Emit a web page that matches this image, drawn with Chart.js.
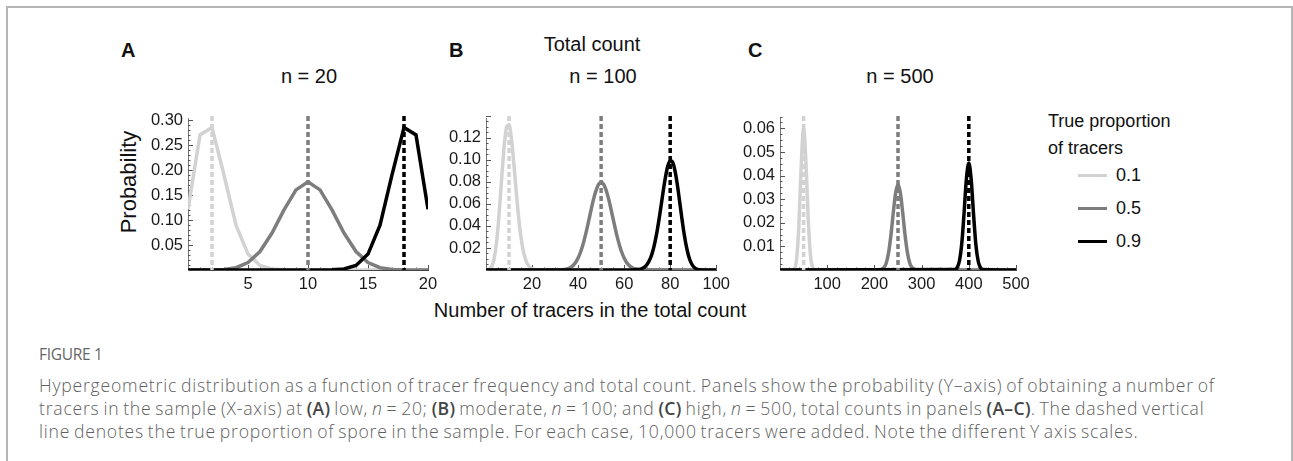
<!DOCTYPE html>
<html>
<head>
<meta charset="utf-8">
<script src="https://cdn.jsdelivr.net/npm/chart.js@4.4.1/dist/chart.umd.min.js"></script>
<style>
body { margin: 0; width: 1293px; height: 461px; background: #fff; position: relative; overflow: hidden; font-family: "Liberation Sans", Arial, sans-serif; }
.frame { position: absolute; left: 6px; top: 6px; width: 1283px; height: 470px; border: 2px solid #b5b5b5; border-bottom: none; }
canvas { position: absolute; }
.t { position: absolute; white-space: nowrap; color: #111; line-height: 1; }
.panel-letter { font-size: 20px; font-weight: bold; }
.panel-title { font-size: 20px; transform: translateX(-50%); }
.ylab { font-size: 22px; transform: translate(-50%, -50%) rotate(-90deg); }
.legend-line { position: absolute; height: 3px; width: 29px; }
.fig { position: absolute; left: 39px; top: 343px; font-family: "Open Sans", "Liberation Sans", sans-serif; font-size: 15.5px; color: #666; letter-spacing: -0.3px; }
.caption { position: absolute; left: 39px; top: 374px; font-family: "Open Sans", "Liberation Sans", sans-serif; font-weight: 300; font-size: 17.6px; line-height: 23px; color: #616161; white-space: nowrap; letter-spacing: 0.78px; word-spacing: -1.5px; }
.caption b { font-weight: 600; color: #444; letter-spacing: 0.3px; }
</style>
</head>
<body>
<div class="frame"></div>

<div class="t panel-letter" style="left:121px; top:40px;">A</div>
<div class="t panel-letter" style="left:449px; top:40px;">B</div>
<div class="t panel-letter" style="left:748px; top:40px;">C</div>
<div class="t panel-title" style="left:592px; top:34px;">Total count</div>
<div class="t panel-title" style="left:309px; top:66px;">n = 20</div>
<div class="t panel-title" style="left:603px; top:66px;">n = 100</div>
<div class="t panel-title" style="left:900px; top:66px;">n = 500</div>
<div class="t ylab" style="left:129px; top:182px;">Probability</div>
<div class="t panel-title" style="left:590px; top:300px;">Number of tracers in the total count</div>

<div class="t" style="left:1048px; top:112px; font-size:18px;">True proportion</div>
<div class="t" style="left:1048px; top:139px; font-size:18px;">of tracers</div>
<div id="legend"></div>

<canvas id="panelA" width="360" height="200" style="left:90px; top:100px;"></canvas>
<canvas id="panelB" width="335" height="200" style="left:400px; top:100px;"></canvas>
<canvas id="panelC" width="335" height="200" style="left:700px; top:100px;"></canvas>

<div class="fig">FIGURE 1</div>
<div class="caption">
Hypergeometric distribution as a function of tracer frequency and total count. Panels show the probability (Y–axis) of obtaining a number of<br>
tracers in the sample (X-axis) at <b>(A)</b> low, <i>n</i> = 20; <b>(B)</b> moderate, <i>n</i> = 100; and <b>(C)</b> high, <i>n</i> = 500, total counts in panels <b>(A–C)</b>. The dashed vertical<br>
line denotes the true proportion of spore in the sample. For each case, 10,000 tracers were added. Note the different Y axis scales.
</div>

<script>
// legend
const proportions = ['0.1', '0.5', '0.9'];
const seriesColors = ['#d2d2d2', '#7d7d7d', '#000000'];

// panel A, n = 20
const countsA = [0, 1, 2, 3, 4, 5, 6, 7, 8, 9, 10, 11, 12, 13, 14, 15, 16, 17, 18, 19, 20];
const lowA = [0.1216, 0.2702, 0.2852, 0.1901, 0.0898, 0.0319, 0.0089, 0.0020, 0.0004, 0.0001, 0, 0, 0, 0, 0, 0, 0, 0, 0, 0, 0];
const midA = [0, 0, 0.0002, 0.0011, 0.0046, 0.0148, 0.0370, 0.0739, 0.1201, 0.1602, 0.1762, 0.1602, 0.1201, 0.0739, 0.0370, 0.0148, 0.0046, 0.0011, 0.0002, 0, 0];
const highA = [0, 0, 0, 0, 0, 0, 0, 0, 0, 0, 0, 0.0001, 0.0004, 0.0020, 0.0089, 0.0319, 0.0898, 0.1901, 0.2852, 0.2702, 0.1216];
const trueA = [2, 10, 18];

// panel B, n = 100
const lowBx = [0, 2, 3, 4, 5, 6, 7, 8, 9, 10, 11, 12, 13, 14, 15, 16, 17, 18, 19, 20, 21, 22, 24, 100];
const lowBy = [0, 0.0016, 0.0059, 0.0159, 0.0339, 0.0596, 0.0889, 0.1148, 0.1304, 0.1319, 0.1199, 0.0988, 0.0743, 0.0513, 0.0327, 0.0193, 0.0106, 0.0054, 0.0026, 0.0012, 0.0005, 0.0002, 0, 0];
const midBx = [0, 33, 34, 35, 36, 37, 38, 39, 40, 41, 42, 43, 44, 45, 46, 47, 48, 49, 50, 51, 52, 53, 54, 55, 56, 57, 58, 59, 60, 61, 62, 63, 64, 65, 66, 67, 100];
const midBy = [0, 0.0002, 0.0005, 0.0009, 0.0016, 0.0027, 0.0045, 0.0071, 0.0108, 0.0159, 0.0223, 0.0301, 0.0390, 0.0485, 0.0580, 0.0666, 0.0735, 0.0780, 0.0796, 0.0780, 0.0735, 0.0666, 0.0580, 0.0485, 0.0390, 0.0301, 0.0223, 0.0159, 0.0108, 0.0071, 0.0045, 0.0027, 0.0016, 0.0009, 0.0005, 0.0002, 0];
const highBx = [0, 63, 64, 65, 66, 67, 68, 69, 70, 71, 72, 73, 74, 75, 76, 77, 78, 79, 80, 81, 82, 83, 84, 85, 86, 87, 88, 89, 90, 91, 92, 93, 94, 95, 100];
const highBy = [0, 0, 0.0001, 0.0002, 0.0004, 0.0008, 0.0016, 0.0029, 0.0052, 0.0088, 0.0141, 0.0217, 0.0316, 0.0439, 0.0577, 0.0720, 0.0849, 0.0946, 0.0993, 0.0981, 0.0909, 0.0789, 0.0638, 0.0481, 0.0335, 0.0216, 0.0128, 0.0069, 0.0034, 0.0015, 0.0006, 0.0002, 0.0001, 0, 0];
const trueB = [10, 50, 80];

// panel C, n = 500
const lowCx = [0, 25, 30, 35, 40, 45, 50, 55, 60, 65, 70, 75, 500];
const lowCy = [0, 0.0001, 0.0005, 0.0043, 0.0188, 0.0446, 0.0600, 0.0455, 0.0207, 0.0054, 0.0009, 0.0001, 0];
const midCx = [0, 210, 215, 220, 225, 230, 235, 240, 245, 250, 255, 260, 265, 270, 275, 280, 285, 290, 500];
const midCy = [0, 0.0001, 0.0003, 0.0010, 0.0029, 0.0073, 0.0147, 0.0242, 0.0327, 0.0362, 0.0327, 0.0242, 0.0147, 0.0073, 0.0029, 0.0010, 0.0003, 0.0001, 0];
const highCx = [0, 370, 375, 380, 385, 390, 395, 400, 405, 410, 415, 420, 425, 430, 500];
const highCy = [0, 0.0002, 0.0009, 0.0037, 0.0110, 0.0242, 0.0388, 0.0453, 0.0385, 0.0238, 0.0107, 0.0036, 0.0009, 0.0002, 0];
const trueC = [50, 250, 400];

const tickFont = { family: '"Liberation Sans", Arial, sans-serif', size: 16.5 };

// small inward ticks, major and minor, like the original plot style
const tickMarks = {
    id: 'tickMarks',
    beforeDatasetsDraw(chart, args, opts) {
        const ctx = chart.ctx;
        const area = chart.chartArea;
        ctx.save();
        ctx.strokeStyle = '#555';
        ctx.lineWidth = 1;
        ['x', 'y'].forEach(function(key) {
            const scale = chart.scales[key];
            const o = opts[key];
            const n = Math.round((scale.max - scale.min) / o.minor);
            for (let i = 1; i <= n; i++) {
                const v = scale.min + i * o.minor;
                const r = v / o.major;
                const len = Math.abs(r - Math.round(r)) < 1e-6 ? 5 : 2.5;
                const p = Math.round(scale.getPixelForValue(v)) + 0.5;
                ctx.beginPath();
                if (key === 'x') {
                    ctx.moveTo(p, area.bottom);
                    ctx.lineTo(p, area.bottom - len);
                } else {
                    ctx.moveTo(area.left, p);
                    ctx.lineTo(area.left + len, p);
                }
                ctx.stroke();
            }
        });
        ctx.restore();
    }
};

// dashed vertical line at the true count of each series
const trueLines = {
    id: 'trueLines',
    afterDatasetsDraw(chart, args, opts) {
        const ctx = chart.ctx;
        const area = chart.chartArea;
        opts.values.forEach(function(v, i) {
            const x = chart.scales.x.getPixelForValue(v);
            ctx.save();
            ctx.strokeStyle = seriesColors[i];
            ctx.lineWidth = 3.5;
            ctx.setLineDash([5, 3]);
            ctx.beginPath();
            ctx.moveTo(x, area.top - 2);
            ctx.lineTo(x, area.bottom);
            ctx.stroke();
            ctx.restore();
        });
    }
};

function makePanel(id, cfg) {
    const datasets = cfg.series.map(function(s, i) {
        return {
            data: s.x.map(function(x, j) { return { x: x, y: s.y[j] }; }),
            borderColor: seriesColors[i],
            borderWidth: 3.5,
            pointRadius: 0,
            tension: cfg.tension,
            cubicInterpolationMode: cfg.tension ? 'monotone' : 'default',
            fill: false,
            order: 2 - i
        };
    });

    return new Chart(document.getElementById(id), {
        type: 'line',
        data: { datasets: datasets },
        options: {
            responsive: false,
            animation: false,
            devicePixelRatio: 1,
            layout: { padding: { top: 18, right: cfg.padRight, left: 0, bottom: 0 } },
            plugins: {
                legend: { display: false },
                tooltip: { enabled: false },
                trueLines: { values: cfg.trueVals },
                tickMarks: { x: cfg.xTicks, y: cfg.yTicks }
            },
            scales: {
                x: {
                    type: 'linear',
                    min: 0,
                    max: cfg.xMax,
                    grid: { display: false, drawTicks: false },
                    border: { color: '#444', width: 1 },
                    ticks: {
                        stepSize: cfg.xTicks.major,
                        includeBounds: false,
                        autoSkip: false,
                        maxRotation: 0,
                        padding: 5,
                        color: '#1a1a1a',
                        font: tickFont,
                        callback: function(v) { return v === 0 ? '' : v; }
                    },
                    afterFit: function(s) { s.height = 30; }
                },
                y: {
                    min: 0,
                    max: cfg.yMax,
                    grid: { display: false, drawTicks: false },
                    border: { color: '#777', width: 1 },
                    ticks: {
                        stepSize: cfg.yTicks.major,
                        includeBounds: false,
                        autoSkip: false,
                        padding: 5,
                        color: '#1a1a1a',
                        font: tickFont,
                        callback: function(v) { return Math.abs(v) < 1e-9 ? '' : v.toFixed(2); }
                    },
                    afterFit: function(s) { s.width = cfg.yWidth; }
                }
            }
        },
        plugins: [tickMarks, trueLines]
    });
}

makePanel('panelA', {
    series: [
        { x: countsA, y: lowA },
        { x: countsA, y: midA },
        { x: countsA, y: highA }
    ],
    trueVals: trueA,
    xMax: 20, yMax: 0.304,
    xTicks: { major: 5, minor: 1 },
    yTicks: { major: 0.05, minor: 0.01 },
    yWidth: 98, padRight: 22, tension: 0
});

makePanel('panelB', {
    series: [
        { x: lowBx, y: lowBy },
        { x: midBx, y: midBy },
        { x: highBx, y: highBy }
    ],
    trueVals: trueB,
    xMax: 100, yMax: 0.138,
    xTicks: { major: 20, minor: 5 },
    yTicks: { major: 0.02, minor: 0.005 },
    yWidth: 86, padRight: 16, tension: 0.4
});

makePanel('panelC', {
    series: [
        { x: lowCx, y: lowCy },
        { x: midCx, y: midCy },
        { x: highCx, y: highCy }
    ],
    trueVals: trueC,
    xMax: 500, yMax: 0.0644,
    xTicks: { major: 100, minor: 20 },
    yTicks: { major: 0.01, minor: 0.0025 },
    yWidth: 80, padRight: 19, tension: 0.4
});

// html legend
const legend = document.getElementById('legend');
proportions.forEach(function(p, i) {
    const y = [175, 208, 241][i];
    const line = document.createElement('div');
    line.className = 'legend-line';
    line.style.left = '1078px';
    line.style.top = (y - 1) + 'px';
    line.style.background = seriesColors[i];
    legend.appendChild(line);
    const label = document.createElement('div');
    label.className = 't';
    label.style.left = '1116px';
    label.style.top = (y - 9) + 'px';
    label.style.fontSize = '18px';
    label.textContent = p;
    legend.appendChild(label);
});
</script>
</body>
</html>
